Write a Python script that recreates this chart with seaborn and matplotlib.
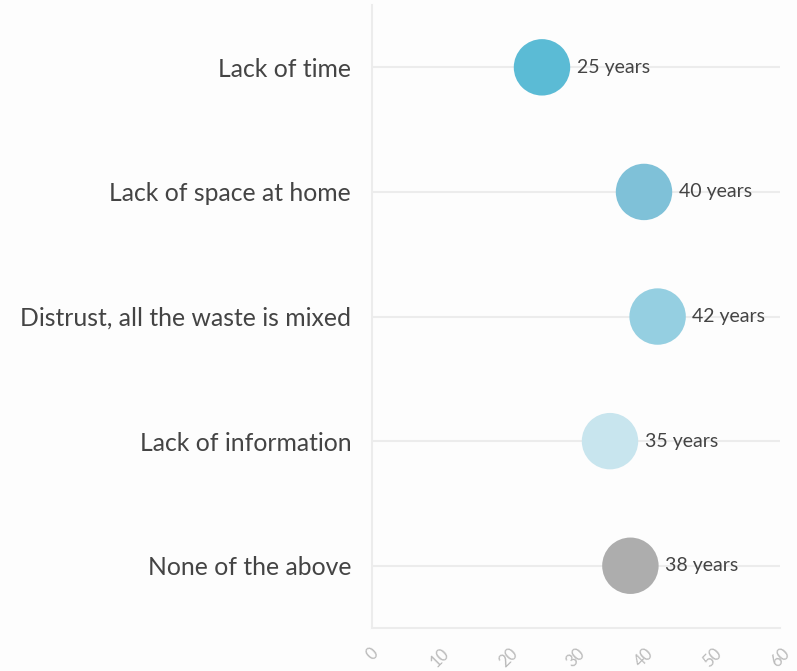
import matplotlib
matplotlib.use("Agg")
import matplotlib.pyplot as plt
import seaborn as sns
import pandas as pd

# --- data ---
reasons = ['Lack of time', 'Lack of space at home', 'Distrust, all the waste is mixed',
           'Lack of information', 'None of the above']
ages = [25, 40, 42, 35, 38]
colors = ['#5bbbd5', '#7fc1d8', '#95cfe1', '#c8e5ee', '#adadad']
x_ticks = [0, 10, 20, 30, 40, 50, 60]

df = pd.DataFrame({'reason': reasons, 'age': ages})

sns.set_theme(style="white")
plt.rcParams['font.family'] = ['Lato', 'DejaVu Sans']

fig = plt.figure(figsize=(7.97, 6.71), dpi=100, facecolor='#fdfdfd')
ax = fig.add_axes([0.4667, 0.064, 0.512, 0.9285])
ax.set_facecolor('#fdfdfd')

sns.scatterplot(data=df, x='age', y='reason', hue='reason', palette=colors,
                s=1650, legend=False, linewidth=0, ax=ax, zorder=3)

for i, (r, a) in enumerate(zip(reasons, ages)):
    ax.annotate(f'{a} years', (a, i), xytext=(25, 0), textcoords='offset points',
                va='center', ha='left', fontsize=14, color='#444444', zorder=4)

ax.set_xlim(0, 60)
ax.set_ylim(4.5, -0.5)
ax.set_xticks(x_ticks)
ax.set_xticklabels([str(t) for t in x_ticks], rotation=45, color='#bbbbbb', fontsize=12)
ax.set_yticks(range(len(reasons)))
ax.set_yticklabels(reasons, fontsize=17.8, color='#444444')
ax.set_xlabel('')
ax.set_ylabel('')

ax.grid(axis='y', color='#ececec', linewidth=1.5, zorder=0)
ax.grid(axis='x', visible=False)
for side in ['top', 'right']:
    ax.spines[side].set_visible(False)
for side in ['left', 'bottom']:
    ax.spines[side].set_color('#ececec')
    ax.spines[side].set_linewidth(1.5)
ax.tick_params(axis='both', which='both', length=10, width=1.5, color='#ececec', direction='out')
ax.tick_params(axis='y', pad=5)
ax.tick_params(axis='x', pad=2)

fig.savefig('out.png', dpi=100, facecolor=fig.get_facecolor())
